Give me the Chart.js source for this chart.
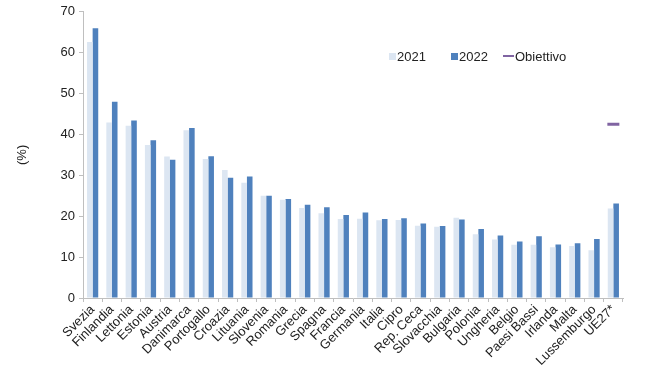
<!DOCTYPE html>
<html>
<head>
<meta charset="utf-8">
<script src="https://cdn.jsdelivr.net/npm/chart.js@4"></script>
<style>
  html, body { margin: 0; padding: 0; background: #fff; }
  #wrap { position: relative; width: 650px; height: 384px; }
  #legend { position: absolute; left: 0; top: 0; font: 13px "Liberation Sans", Arial, sans-serif; color: #222; }
  #legend span.item { position: absolute; top: 48px; display: flex; align-items: center; white-space: nowrap; height: 16px; }
  #legend i { display: inline-block; }
</style>
</head>
<body>
<div id="wrap">
  <canvas id="c" width="650" height="384"></canvas>
  <div id="legend"></div>
</div>
<script>
const categories = ["Svezia","Finlandia","Lettonia","Estonia","Austria","Danimarca","Portogallo","Croazia","Lituania","Slovenia","Romania","Grecia","Spagna","Francia","Germania","Italia","Cipro","Rep. Ceca","Slovacchia","Bulgaria","Polonia","Ungheria","Belgio","Paesi Bassi","Irlanda","Malta","Lussemburgo","UE27*"];
const values2021 = [62.6,42.9,42.1,37.4,34.6,41.0,34.0,31.3,28.2,25.0,24.0,22.0,20.7,19.3,19.4,19.0,19.1,17.7,17.4,19.6,15.6,14.3,13.0,13.0,12.4,12.7,11.7,21.9];
const values2022 = [66.0,48.0,43.4,38.6,33.8,41.6,34.7,29.4,29.7,25.0,24.2,22.8,22.2,20.3,20.9,19.3,19.5,18.2,17.6,19.2,16.9,15.3,13.8,15.1,13.1,13.4,14.4,23.1];
const target = [null,null,null,null,null,null,null,null,null,null,null,null,null,null,null,null,null,null,null,null,null,null,null,null,null,null,null,42.5];
const yTicks = [0,10,20,30,40,50,60,70];

const col2021 = "#dce6f2", col2022 = "#4f81bd", colTarget = "#8064a2";
const font = { family: "'Liberation Sans', Arial, sans-serif", size: 13 };

new Chart(document.getElementById("c"), {
  type: "bar",
  data: {
    labels: categories,
    datasets: [
      { label: "2021", data: values2021, backgroundColor: col2021, barPercentage: 1, categoryPercentage: 0.58, order: 2 },
      { label: "2022", data: values2022, backgroundColor: col2022, barPercentage: 1, categoryPercentage: 0.58, order: 2 },
      { type: "line", label: "Obiettivo", data: target, borderColor: colTarget, backgroundColor: colTarget, showLine: false,
        pointStyle: "line", pointRadius: 6, pointHoverRadius: 6, pointBorderWidth: 3, order: 1 }
    ]
  },
  options: {
    responsive: false,
    animation: false,
    layout: { padding: { left: 15, top: 10, right: 27, bottom: 0 } },
    plugins: { legend: { display: false }, tooltip: { enabled: false } },
    scales: {
      x: {
        grid: { drawOnChartArea: false, drawTicks: true, tickLength: 4, color: "#bfbfbf", offset: true },
        border: { color: "#bfbfbf" },
        ticks: { font: font, color: "#222", minRotation: 45, maxRotation: 45, autoSkip: false, padding: 0 },
        afterFit: s => { s.height = 86; }
      },
      y: {
        min: 0, max: 70,
        afterBuildTicks: s => { s.ticks = yTicks.map(v => ({ value: v })); },
        grid: { drawOnChartArea: false, drawTicks: true, tickLength: 4, color: "#bfbfbf" },
        border: { color: "#bfbfbf" },
        ticks: { font: font, color: "#222", padding: 4 },
        title: { display: true, text: "(%)", font: font, color: "#222", padding: { top: 0, bottom: 0 } },
        afterFit: s => { s.width = 68; }
      }
    }
  }
});

const legend = document.getElementById("legend");
[["2021", col2021, "box", 389], ["2022", col2022, "box", 451], ["Obiettivo", colTarget, "line", 503]].forEach(([t, c, k, x]) => {
  const s = document.createElement("span"); s.className = "item"; s.style.left = x + "px";
  const i = document.createElement("i");
  if (k === "box") { i.style.cssText = `width:7px;height:7px;background:${c};margin-right:1px;`; }
  else { i.style.cssText = `width:11px;height:2px;background:${c};margin-right:1px;`; }
  s.appendChild(i); s.appendChild(document.createTextNode(t)); legend.appendChild(s);
});
</script>
</body>
</html>
